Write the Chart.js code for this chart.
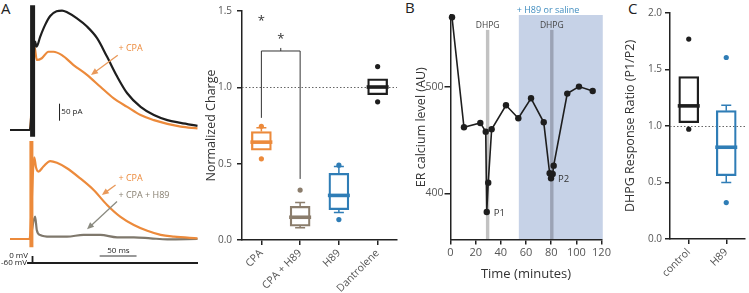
<!DOCTYPE html>
<html>
<head>
<meta charset="utf-8">
<script src="https://cdn.jsdelivr.net/npm/chart.js@4/dist/chart.umd.min.js"></script>
<style>
  body { margin: 0; background: #fff; }
  #fig { position: relative; width: 749px; height: 293px; overflow: hidden; font-family: 'Open Sans', sans-serif; }
  #fig canvas { position: absolute; }
  .panel { position: absolute; font-size: 15px; line-height: 1; color: #222; }
</style>
</head>
<body>
<div id="fig">
  <div class="panel" style="left:1px;top:1px">A</div>
  <div class="panel" style="left:405px;top:0px">B</div>
  <div class="panel" style="left:628px;top:1px">C</div>
  <canvas id="traceTop" width="200" height="140" style="left:0;top:0"></canvas>
  <canvas id="traceBot" width="200" height="110" style="left:0;top:140px"></canvas>
  <canvas id="traceV" width="200" height="30" style="left:0;top:240px"></canvas>
  <canvas id="chargeBox" width="215" height="293" style="left:200px;top:0"></canvas>
  <canvas id="timeCourse" width="207" height="293" style="left:408px;top:0"></canvas>
  <canvas id="ratioBox" width="134" height="293" style="left:615px;top:0"></canvas>
</div>
<script>
// ---- Panel A, traces (time in ms, current in pA) ----
const ctrlT = [0, 27.5, 34.7, 36.8, 41.7, 48.6, 55.6, 64.4, 72.0, 79.0, 92.6, 106.5, 120.4, 134.3, 148.2, 162.1, 180.6, 199.0, 217.6, 236.1, 259.3];
const ctrlI = [0, 0, 260, 245, 274, 309, 335, 349, 351, 346, 328, 304, 270, 215, 157, 108, 68, 44, 29, 21, 12];
const cpaT = [0, 27.5, 33.8, 37.1, 44.0, 53.2, 60.1, 71.8, 87.9, 106.5, 125.0, 143.5, 162.1, 180.6, 199.0, 217.6, 236.1, 259.3];
const cpaI = [0, 0, 245, 206, 211, 230, 230, 220, 191, 162, 127, 93, 68, 44, 29, 18, 10, 5];
const artTopT = [31.25, 31.25];
const artTopI = [367, -20];

const cpa2T = [0, 27.0, 33.5, 36.0, 39.3, 46.2, 55.6, 64.9, 78.8, 97.2, 115.7, 134.3, 152.8, 171.3, 189.9, 208.4, 226.8, 259.3];
const cpa2I = [0, 0, 240, 210, 198, 213, 229, 224, 208, 178, 144, 100, 65, 41, 24, 12, 7, 2];
const cpaH89T = [0, 27.0, 34.7, 37.1, 41.7, 55.6, 78.8, 101.8, 125.0, 148.2, 171.3, 194.5, 217.6, 259.3];
const cpaH89I = [0, 0, 66, 26, 12, 7, 7, 12, 12, 5, 5, 2, -1, 0];
const artBotT = [29.6, 29.6];
const artBotI = [288, -24];

const voltT = [23.6, 30.6, 30.6, 31.4, 31.4, 260];
const voltMv = [-60, -60, 0, 0, -60, -60];

// ---- Panel A, normalized charge box plot ----
const chargeCats = ['CPA', 'CPA + H89', 'H89', 'Dantrolene'];
const chargeQ1 = [0.589, 0.091, 0.199, 0.952];
const chargeQ3 = [0.710, 0.221, 0.437, 1.056];
const chargeMed = [0.641, 0.149, 0.292, 1.002];
const chargeLo = [null, 0.080, 0.180, null];
const chargeHi = [0.736, 0.245, 0.482, null];
const chargeOutliers = [[0.745, 0.532], [0.327], [0.134, 0.49], [1.136, 0.905]];

// ---- Panel B, ER calcium time course ----
const erTime = [1.2, 10.7, 23.7, 28.0, 28.8, 30.0, 32.7, 44.1, 53.9, 64.0, 74.1, 78.8, 79.9, 81.2, 82.0, 92.8, 102.1, 113.0];
const erLevel = [565.9, 462.3, 466.4, 458.2, 382.6, 410.2, 460.5, 483.0, 470.8, 489.6, 467.0, 419.0, 414.3, 418.4, 426.2, 494.0, 500.6, 496.5];
const erTicks = [400, 500];
const dhpgTimes = [29.5, 80.5];
const treatWindow = [54.3, 121];
const peakLabels = ['P1', 'P2'];
const peakIdx = [4, 12];

// ---- Panel C, response ratio box plot ----
const ratioCats = ['control', 'H89'];
const ratioQ1 = [1.030, 0.561];
const ratioQ3 = [1.437, 1.136];
const ratioMed = [1.178, 0.812];
const ratioLo = [null, 0.499];
const ratioHi = [null, 1.184];
const ratioOutliers = [[1.769, 0.972], [1.606, 0.322]];

const ORANGE = '#ec8a3b', TAUPE = '#8b7d6c', BLUE = '#2f7db6', BLACK = '#1e1e1e';

Chart.defaults.font.family = "'Open Sans', sans-serif";
Chart.defaults.color = '#4a4a4a';
Chart.defaults.animation = false;
Chart.defaults.events = [];
Chart.defaults.plugins.legend.display = false;
Chart.defaults.plugins.tooltip.enabled = false;

const pts = (xs, ys) => xs.map((x, i) => ({x: x, y: ys[i]}));

function arrow(ctx, x0, y0, x1, y1, color) {
  const a = Math.atan2(y1 - y0, x1 - x0);
  ctx.strokeStyle = color; ctx.fillStyle = color; ctx.lineWidth = 1.3;
  ctx.beginPath(); ctx.moveTo(x0, y0);
  ctx.lineTo(x1 - 5 * Math.cos(a), y1 - 5 * Math.sin(a)); ctx.stroke();
  ctx.beginPath();
  ctx.moveTo(x1, y1);
  ctx.lineTo(x1 - 7 * Math.cos(a) + 3 * Math.sin(a), y1 - 7 * Math.sin(a) - 3 * Math.cos(a));
  ctx.lineTo(x1 - 7 * Math.cos(a) - 3 * Math.sin(a), y1 - 7 * Math.sin(a) + 3 * Math.cos(a));
  ctx.closePath(); ctx.fill();
}

// notes: texts, arrows and scale bars placed in data units
function notesPlugin(notes) {
  return {
    id: 'notes',
    afterDatasetsDraw(chart) {
      const {ctx, scales: {x, y}} = chart;
      ctx.save();
      notes.forEach(n => {
        if (n.kind === 'text') {
          ctx.font = (n.size || 9) + "px 'Open Sans'";
          ctx.fillStyle = n.color; ctx.textAlign = n.align || 'left'; ctx.textBaseline = 'middle';
          const px = n.px !== undefined ? n.px : x.getPixelForValue(n.t);
          ctx.fillText(n.text, px, y.getPixelForValue(n.v));
        } else if (n.kind === 'arrow') {
          arrow(ctx, x.getPixelForValue(n.t0), y.getPixelForValue(n.v0), x.getPixelForValue(n.t1), y.getPixelForValue(n.v1), n.color);
        } else if (n.kind === 'bar') {
          ctx.strokeStyle = n.color; ctx.lineWidth = n.width;
          ctx.beginPath();
          ctx.moveTo(x.getPixelForValue(n.t0), y.getPixelForValue(n.v0));
          ctx.lineTo(x.getPixelForValue(n.t1), y.getPixelForValue(n.v1));
          ctx.stroke();
        }
      });
      ctx.restore();
    }
  };
}

function traceChart(id, datasets, yMin, yMax, pad, notes) {
  return new Chart(document.getElementById(id), {
    type: 'line',
    data: {datasets: datasets},
    options: {
      responsive: false,
      layout: {padding: pad},
      elements: {point: {radius: 0}},
      scales: {
        x: {type: 'linear', display: false, min: 0, max: 260},
        y: {display: false, min: yMin, max: yMax}
      }
    },
    plugins: [notesPlugin(notes)]
  });
}

const traceLine = (data, color, width) => ({
  data: data, borderColor: color, borderWidth: width || 2.2, cubicInterpolationMode: 'monotone', clip: 4
});

traceChart('traceTop', [
  traceLine(pts(ctrlT, ctrlI), BLACK),
  Object.assign(traceLine(pts(artTopT, artTopI), BLACK, 5), {cubicInterpolationMode: 'default'}),
  traceLine(pts(cpaT, cpaI), ORANGE)
], -20.6, 370.4, {left: 10, right: 2, top: 4, bottom: 3}, [
  {kind: 'text', t: 150, v: 238.7, text: '+ CPA', color: ORANGE, size: 9},
  {kind: 'arrow', t0: 149, v0: 220, t1: 112, v1: 162, color: '#e9995a'},
  {kind: 'bar', t0: 68.5, v0: 27.3, t1: 68.5, v1: 77.3, color: '#222', width: 1},
  {kind: 'text', t: 71, v: 54, text: '50 pA', color: '#222', size: 8}
]);

traceChart('traceBot', [
  traceLine(pts(cpa2T, cpa2I), ORANGE),
  Object.assign(traceLine(pts(artBotT, artBotI), ORANGE, 4), {cubicInterpolationMode: 'default'}),
  traceLine(pts(cpaH89T, cpaH89I), '#7f786c')
], -26.5, 288.1, {left: 10, right: 2, top: 1, bottom: 2}, [
  {kind: 'text', t: 150, v: 178.5, text: '+ CPA', color: ORANGE, size: 9},
  {kind: 'arrow', t0: 146, v0: 159, t1: 127, v1: 129, color: '#e9995a'},
  {kind: 'text', t: 150, v: 129.4, text: '+ CPA + H89', color: '#877f70', size: 9},
  {kind: 'arrow', t0: 148, v0: 110, t1: 106.5, v1: 28.5, color: '#8a8a80'}
]);

traceChart('traceV', [
  {data: pts(voltT, voltMv), borderColor: BLACK, borderWidth: 1.8, tension: 0, clip: 4}
], -120.1, 137.1, {left: 10, right: 2, top: 0, bottom: 0}, [
  {kind: 'bar', t0: 124, v0: 0, t1: 175, v1: 0, color: '#777', width: 1.5},
  {kind: 'text', t: 150, v: 48, text: '50 ms', color: '#222', size: 8, align: 'center'},
  {kind: 'text', px: 28, v: 0, text: '0 mV', color: '#222', size: 8, align: 'right'},
  {kind: 'text', px: 27, v: -60, text: '-60 mV', color: '#222', size: 8, align: 'right'}
]);

// ---- box plots ----
function boxPlugin(st) {
  return {
    id: 'boxParts',
    beforeDatasetsDraw(chart) {
      const {ctx, chartArea: a, scales: {y}} = chart;
      ctx.save();
      ctx.strokeStyle = '#666'; ctx.lineWidth = 1; ctx.setLineDash([1.5, 2]);
      const yy = Math.round(y.getPixelForValue(1)) + 0.5;
      ctx.beginPath(); ctx.moveTo(a.left, yy); ctx.lineTo(a.right, yy); ctx.stroke();
      ctx.restore();
    },
    afterDatasetsDraw(chart) {
      const {ctx, scales: {x, y}} = chart;
      ctx.save();
      st.med.forEach((m, i) => {
        const cx = x.getPixelForValue(i);
        ctx.strokeStyle = st.colors[i];
        ctx.lineWidth = 1.5;
        [[st.hi[i], st.q3[i]], [st.lo[i], st.q1[i]]].forEach(([w, q]) => {
          if (w === null) return;
          ctx.beginPath();
          ctx.moveTo(cx, y.getPixelForValue(q)); ctx.lineTo(cx, y.getPixelForValue(w));
          ctx.moveTo(cx - 5, y.getPixelForValue(w)); ctx.lineTo(cx + 5, y.getPixelForValue(w));
          ctx.stroke();
        });
        ctx.lineWidth = 3.6;
        ctx.beginPath();
        ctx.moveTo(cx - 11, y.getPixelForValue(m)); ctx.lineTo(cx + 11, y.getPixelForValue(m));
        ctx.stroke();
      });
      if (st.bracket) {
        const b = st.bracket;
        const xl = x.getPixelForValue(b.from), xr = x.getPixelForValue(b.to), xm = x.getPixelForValue((b.from + b.to) / 2);
        ctx.strokeStyle = '#333'; ctx.lineWidth = 1;
        ctx.beginPath();
        ctx.moveTo(xl, y.getPixelForValue(b.leftEnd)); ctx.lineTo(xl, y.getPixelForValue(b.level));
        ctx.lineTo(xr, y.getPixelForValue(b.level)); ctx.lineTo(xr, y.getPixelForValue(b.rightEnd));
        ctx.moveTo(xm, y.getPixelForValue(b.level)); ctx.lineTo(xm, y.getPixelForValue(b.tick));
        ctx.stroke();
        ctx.fillStyle = '#333'; ctx.font = "13px 'Open Sans'"; ctx.textAlign = 'center'; ctx.textBaseline = 'top';
        b.stars.forEach(s => ctx.fillText('*', x.getPixelForValue(s.cat), y.getPixelForValue(s.v) - 2));
      }
      ctx.restore();
    }
  };
}

function boxChart(id, cats, q1, q3, med, lo, hi, outliers, colors, opt) {
  const outPts = [], outCols = [];
  outliers.forEach((list, i) => list.forEach(v => { outPts.push({x: cats[i], y: v}); outCols.push(colors[i]); }));
  return new Chart(document.getElementById(id), {
    type: 'bar',
    data: {
      labels: cats,
      datasets: [
        {type: 'line', data: outPts, showLine: false, pointRadius: 2.6, pointBorderWidth: 0,
         pointBackgroundColor: outCols, clip: false},
        {data: q1.map((v, i) => [v, q3[i]]), backgroundColor: 'rgba(255,255,255,0)', borderColor: colors,
         borderWidth: 1.6, borderSkipped: false, barThickness: 20}
      ]
    },
    options: {
      responsive: false,
      layout: {padding: opt.pad},
      scales: {
        x: {
          offset: true,
          grid: {drawOnChartArea: false, offset: false, tickLength: 5, color: '#222', lineWidth: 1.5},
          border: {color: '#222', width: 1.5},
          ticks: {autoSkip: false, minRotation: 45, maxRotation: 45, padding: 2, font: {size: 10.5}, color: '#555'},
          afterFit: s => { s.height = opt.xh; }
        },
        y: {
          min: 0, max: opt.ymax,
          grid: {drawOnChartArea: false, tickLength: 5, color: '#222', lineWidth: 1.5},
          border: {color: '#222', width: 1.5},
          ticks: {stepSize: 0.5, padding: opt.tpad, font: {size: 10}, color: '#555', callback: v => v.toFixed(1)},
          title: {display: true, text: opt.title, font: {size: 12.5}, color: '#333', padding: {top: opt.titlePad, bottom: 0}},
          afterFit: s => { s.width = opt.yw; }
        }
      }
    },
    plugins: [boxPlugin({q1: q1, q3: q3, med: med, lo: lo, hi: hi, colors: colors, bracket: opt.bracket})]
  });
}

boxChart('chargeBox', chargeCats, chargeQ1, chargeQ3, chargeMed, chargeLo, chargeHi, chargeOutliers,
  [ORANGE, TAUPE, BLUE, BLACK], {
    pad: {left: 0, right: 18, top: 9, bottom: 0}, xh: 53, yw: 42, ymax: 1.5, tpad: 5,
    title: 'Normalized Charge', titlePad: 4,
    bracket: {from: 0, to: 1, level: 1.238, tick: 1.258, leftEnd: 0.80, rightEnd: 0.40,
              stars: [{cat: 0.5, v: 1.342}, {cat: 0, v: 1.461}]}
  });

boxChart('ratioBox', ratioCats, ratioQ1, ratioQ3, ratioMed, ratioLo, ratioHi, ratioOutliers,
  [BLACK, BLUE], {
    pad: {left: 0, right: 1, top: 13, bottom: 0}, xh: 54, yw: 55, ymax: 2, tpad: 3,
    title: 'DHPG Response Ratio (P1/P2)', titlePad: 8
  });

// ---- panel B ----
const timePlugin = {
  id: 'timeExtras',
  beforeDraw(chart) {
    const {ctx, chartArea: a, scales: {x, y}} = chart;
    ctx.save();
    ctx.fillStyle = '#c6d2e7';
    const x0 = x.getPixelForValue(treatWindow[0]), x1 = x.getPixelForValue(treatWindow[1]);
    ctx.fillRect(x0, a.top, x1 - x0, a.bottom - a.top);
    const barCols = ['#c2c2c2', '#9ba3b5'];
    dhpgTimes.forEach((t, i) => {
      const top = y.getPixelForValue(554);
      ctx.fillStyle = barCols[i];
      ctx.fillRect(x.getPixelForValue(t) - 1.7, top, 3.4, a.bottom - top);
    });
    ctx.restore();
  },
  afterDatasetsDraw(chart) {
    const {ctx, chartArea: a, scales: {x, y}} = chart;
    ctx.save();
    ctx.textAlign = 'center'; ctx.textBaseline = 'middle';
    ctx.fillStyle = '#444'; ctx.font = "8.5px 'Open Sans'";
    dhpgTimes.forEach(t => ctx.fillText('DHPG', x.getPixelForValue(t), y.getPixelForValue(558)));
    ctx.fillStyle = '#3f8cbf'; ctx.font = "9px 'Open Sans'";
    ctx.fillText('+ H89 or saline', x.getPixelForValue(77.5), a.top - 5);
    ctx.fillStyle = '#333'; ctx.textAlign = 'left'; ctx.font = "9.5px 'Open Sans'";
    peakIdx.forEach((k, i) => ctx.fillText(peakLabels[i], x.getPixelForValue(erTime[k]) + 7, y.getPixelForValue(erLevel[k]) + 1));
    ctx.restore();
  }
};

new Chart(document.getElementById('timeCourse'), {
  type: 'line',
  data: {datasets: [{
    data: pts(erTime, erLevel), borderColor: BLACK, borderWidth: 1.6, tension: 0,
    pointRadius: 3.2, pointBorderWidth: 0, pointBackgroundColor: BLACK, clip: false
  }]},
  options: {
    responsive: false,
    layout: {padding: {left: 0, right: 13.5, top: 15, bottom: 0}},
    scales: {
      x: {
        type: 'linear', min: 0, max: 120,
        grid: {drawOnChartArea: false, tickLength: 5, color: '#222', lineWidth: 1.5},
        border: {color: '#222', width: 1.5},
        ticks: {stepSize: 20, padding: 2, font: {size: 11}, color: '#555', maxRotation: 0},
        title: {display: true, text: 'Time (minutes)', font: {size: 13}, color: '#333', padding: {top: 0, bottom: 11}},
        afterFit: s => { s.height = 53.5; }
      },
      y: {
        min: 356.7, max: 568,
        afterBuildTicks: s => { s.ticks = erTicks.map(v => ({value: v})); },
        grid: {drawOnChartArea: false, tickLength: 6, color: '#222', lineWidth: 1.5},
        border: {color: '#222', width: 1.5},
        ticks: {padding: 1, font: {size: 10.5}, color: '#555'},
        title: {display: true, text: 'ER calcium level (AU)', font: {size: 12.5}, color: '#333', padding: {top: 6, bottom: 0}},
        afterFit: s => { s.width = 42.5; }
      }
    }
  },
  plugins: [timePlugin]
});
</script>
</body>
</html>
